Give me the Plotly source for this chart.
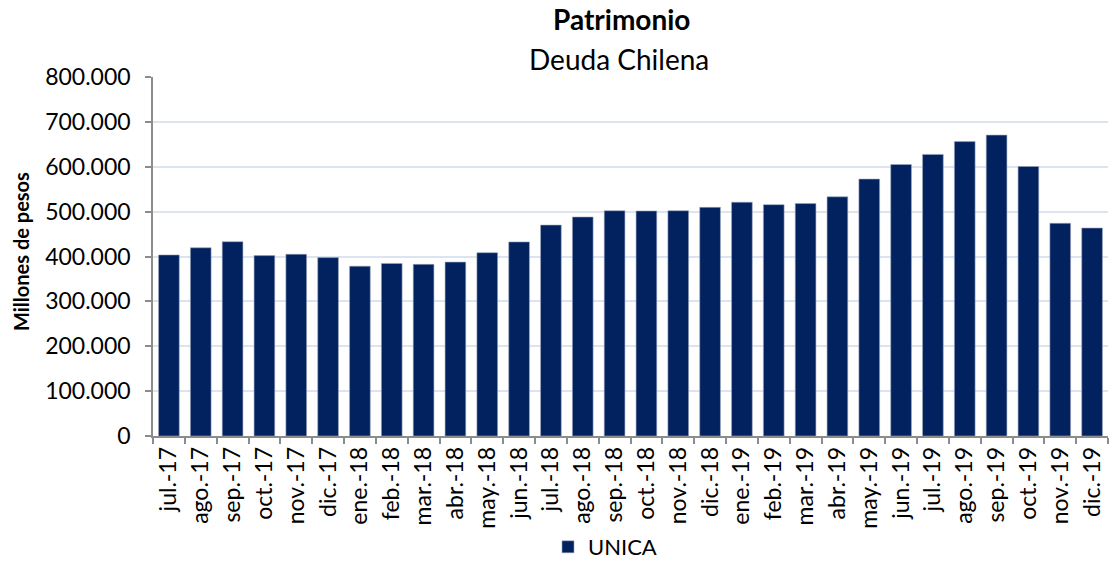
import plotly.graph_objects as go

categories = ["jul.-17", "ago.-17", "sep.-17", "oct.-17", "nov.-17", "dic.-17",
              "ene.-18", "feb.-18", "mar.-18", "abr.-18", "may.-18", "jun.-18",
              "jul.-18", "ago.-18", "sep.-18", "oct.-18", "nov.-18", "dic.-18",
              "ene.-19", "feb.-19", "mar.-19", "abr.-19", "may.-19", "jun.-19",
              "jul.-19", "ago.-19", "sep.-19", "oct.-19", "nov.-19", "dic.-19"]

unica = [403500, 419500, 433000, 402000, 405000, 397500,
         378500, 384500, 382500, 387500, 408500, 432500,
         470000, 488000, 502000, 501500, 502000, 509500,
         521000, 515500, 518000, 533000, 572500, 605000,
         627500, 656000, 670500, 600500, 474000, 463500]

y_ticks = [0, 100000, 200000, 300000, 400000, 500000, 600000, 700000, 800000]
y_tick_labels = ["0", "100.000", "200.000", "300.000", "400.000",
                 "500.000", "600.000", "700.000", "800.000"]

FONT = "Lato"
W, H = 1110, 561
PLOT_L, PLOT_R, PLOT_T, PLOT_B = 153, 1108, 77, 436
PW, PH = PLOT_R - PLOT_L, PLOT_B - PLOT_T


def px_x(x):
    return (x - PLOT_L) / PW


def px_y(y):
    return (PLOT_B - y) / PH


fig = go.Figure()
fig.add_trace(go.Bar(
    x=categories, y=unica, name="UNICA",
    marker=dict(color="#02215F", line=dict(color="#9AA6BD", width=0.6)),
))

fig.update_layout(
    width=W, height=H,
    margin=dict(l=PLOT_L, r=W - PLOT_R, t=PLOT_T, b=H - PLOT_B, autoexpand=False),
    paper_bgcolor="white", plot_bgcolor="white",
    font=dict(family=FONT, size=23, color="black"),
    bargap=0.35,
    showlegend=True,
    legend=dict(orientation="h", x=548 / W, xanchor="left", xref="container",
                y=1 - 547 / H, yanchor="middle", yref="container",
                font=dict(size=22), tracegroupgap=0),
)

fig.add_annotation(text="<b>Patrimonio</b>", x=px_x(621), y=px_y(19),
                   xref="paper", yref="paper", showarrow=False,
                   xanchor="center", yanchor="middle", font=dict(size=28))
fig.add_annotation(text="Deuda Chilena", x=px_x(619), y=px_y(59),
                   xref="paper", yref="paper", showarrow=False,
                   xanchor="center", yanchor="middle", font=dict(size=28))
fig.add_annotation(text="<b>Millones de pesos</b>", textangle=-90,
                   x=px_x(21), y=px_y(252),
                   xref="paper", yref="paper", showarrow=False,
                   xanchor="center", yanchor="middle", font=dict(size=20))

fig.update_xaxes(
    type="category", tickangle=-90, tickson="boundaries",
    showline=True, linecolor="#8C8C8C", linewidth=1.5,
    ticks="outside", ticklen=6, tickcolor="#8C8C8C", tickwidth=1.5,
    showgrid=False, tickfont=dict(size=23), automargin=False,
)
fig.update_yaxes(
    range=[0, 800000], tickvals=y_ticks, ticktext=y_tick_labels,
    showline=True, linecolor="#8C8C8C", linewidth=1.5,
    ticks="outside", ticklen=6, tickcolor="#8C8C8C", tickwidth=1.5,
    showgrid=True, gridcolor="#DCE4F0", gridwidth=1.5,
    zeroline=False, tickfont=dict(size=23), automargin=False,
    ticklabelstandoff=10,
)

fig.write_html("out.html", config={"displayModeBar": False},
               post_script="document.body.style.margin='0';document.body.style.overflow='hidden';")
